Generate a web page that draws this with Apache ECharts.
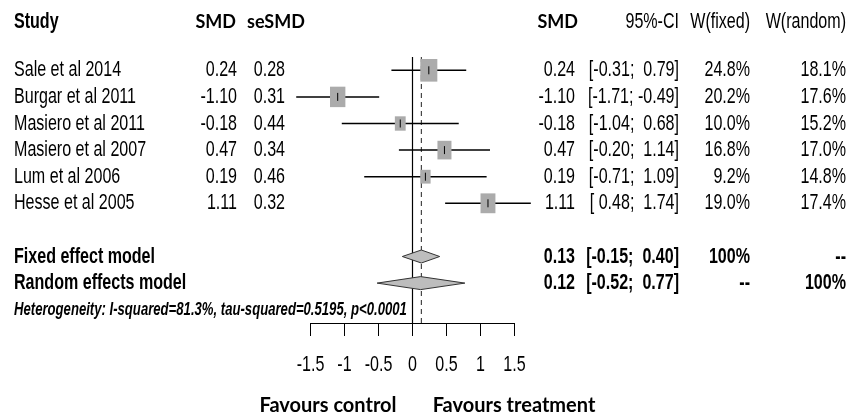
<!DOCTYPE html>
<html>
<head>
<meta charset="utf-8">
<script src="https://cdn.jsdelivr.net/npm/echarts@6/dist/echarts.min.js"></script>
<style>
  html, body { margin: 0; padding: 0; background: #fff; }
  #chart { width: 861px; height: 419px; }
</style>
</head>
<body>
<div id="chart"></div>
<script>
const studies = ['Sale et al 2014', 'Burgar et al 2011', 'Masiero et al 2011', 'Masiero et al 2007', 'Lum et al 2006', 'Hesse et al 2005']
const smd = [0.24, -1.10, -0.18, 0.47, 0.19, 1.11]
const seSmd = [0.28, 0.31, 0.44, 0.34, 0.46, 0.32]
const ciLow = [-0.31, -1.71, -1.04, -0.20, -0.71, 0.48]
const ciHigh = [0.79, -0.49, 0.68, 1.14, 1.09, 1.74]
const wFixed = [24.8, 20.2, 10.0, 16.8, 9.2, 19.0]
const wRandom = [18.1, 17.6, 15.2, 17.0, 14.8, 17.4]

const models = ['Fixed effect model', 'Random effects model']
const modelSmd = [0.13, 0.12]
const modelLow = [-0.15, -0.52]
const modelHigh = [0.40, 0.77]
const modelWFixed = ['100%', '--']
const modelWRandom = ['--', '100%']

const heterogeneity = 'Heterogeneity: I-squared=81.3%, tau-squared=0.5195, p<0.0001'
const xTicks = [-1.5, -1, -0.5, 0, 0.5, 1, 1.5]
const xTickLabels = ['-1.5', '-1', '-0.5', '0', '0.5', '1', '1.5']

// rows on the y scale
const HEADER_ROW = -1.82
const MODEL_ROW0 = 7
const HET_ROW = 9
const AXIS_ROW = 9.5

// Arial Narrow look: Liberation Sans squeezed horizontally
const SANS = '"Liberation Sans", Arial, sans-serif'
const NARROW_X = 0.73
const WIDE = 'Lato, "Open Sans", sans-serif'
const COLS = { study: 14, smd: 237, se: 285, smd2: 575, ci: 679, wf: 750, wr: 846 }

const fmt2 = v => v.toFixed(2)
const pad = v => (v < 0 ? '' : ' ') + v.toFixed(2)
const ciText = (lo, hi) => `[${pad(lo)}; ${pad(hi)}]`

const chart = echarts.init(document.getElementById('chart'), null, { renderer: 'canvas' })

function txt(x, y, text, align, font, sx) {
  return {
    type: 'text', x, y, scaleX: sx || 1,
    style: { x: 0, y: 0, text, align, verticalAlign: 'middle', font, fill: '#000' }
  }
}
const narrow = (x, y, text, align, font, sx) => txt(x, y, text, align, font, sx || NARROW_X)

const studyData = studies.map((s, i) => [smd[i], ciLow[i], ciHigh[i], i, wFixed[i]])
const modelData = models.map((m, i) => [modelSmd[i], modelLow[i], modelHigh[i], MODEL_ROW0 + i])

const option = {
  backgroundColor: '#fff',
  animation: false,
  grid: { left: 310.5, width: 204, top: 57, height: 266 },
  xAxis: {
    type: 'value', min: -1.5, max: 1.5, interval: 0.5,
    axisLine: { show: true, onZero: false, lineStyle: { color: '#000', width: 1 } },
    axisTick: { show: true, length: 13, lineStyle: { color: '#000', width: 1 } },
    axisLabel: { show: false },
    splitLine: { show: false }
  },
  yAxis: {
    type: 'value', inverse: true, min: -0.5, max: 9.5,
    axisLine: { show: false }, axisTick: { show: false }, axisLabel: { show: false },
    splitLine: { show: false }
  },
  series: [
    {
      // reference lines: no effect and fixed effect estimate
      type: 'custom',
      data: [[0, 0], [modelSmd[0], 1]],
      renderItem: (params, api) => {
        const x = api.value(0)
        const top = api.coord([x, -0.5])
        const bot = api.coord([x, AXIS_ROW])
        const dashed = api.value(1) === 1
        return {
          type: 'line',
          shape: { x1: top[0], y1: top[1], x2: bot[0], y2: bot[1] },
          style: dashed ? { stroke: '#222', lineWidth: 1, lineDash: [5, 4] } : { stroke: '#000', lineWidth: 1.2 }
        }
      }
    },
    {
      type: 'custom',
      data: studyData,
      renderItem: (params, api) => {
        const c = api.coord([api.value(0), api.value(3)])
        const lo = api.coord([api.value(1), api.value(3)])
        const hi = api.coord([api.value(2), api.value(3)])
        const w = 3.42 * Math.sqrt(api.value(4))
        const h = w * 1.33
        return {
          type: 'group',
          children: [
            { type: 'line', shape: { x1: lo[0], y1: c[1], x2: hi[0], y2: c[1] }, style: { stroke: '#000', lineWidth: 1.5 } },
            { type: 'rect', shape: { x: c[0] - w / 2, y: c[1] - h / 2, width: w, height: h }, style: { fill: '#ababab' } },
            { type: 'line', shape: { x1: c[0], y1: c[1] - 4, x2: c[0], y2: c[1] + 4 }, style: { stroke: '#000', lineWidth: 1 } }
          ]
        }
      }
    },
    {
      type: 'custom',
      data: modelData,
      renderItem: (params, api) => {
        const row = api.value(3)
        const c = api.coord([api.value(0), row])
        const lo = api.coord([api.value(1), row])
        const hi = api.coord([api.value(2), row])
        const hh = 6.5
        return {
          type: 'polygon',
          shape: { points: [[lo[0], c[1]], [c[0], c[1] - hh], [hi[0], c[1]], [c[0], c[1] + hh]] },
          style: { fill: '#bdbdbd', stroke: '#333', lineWidth: 1 }
        }
      }
    },
    {
      // x tick labels
      type: 'custom',
      data: xTicks.map((t, i) => [t, i]),
      renderItem: (params, api) => {
        const p = api.coord([api.value(0), AXIS_ROW])
        return narrow(p[0], p[1] + 42, xTickLabels[api.value(1)], 'center', `22px ${SANS}`)
      }
    },
    {
      // table text
      type: 'custom',
      data: [[0]],
      renderItem: (params, api) => {
        const y = r => api.coord([0, r])[1]
        const reg = `22px ${SANS}`
        const bold = `bold 22px ${SANS}`
        const kids = []
        const hy = y(HEADER_ROW)
        kids.push(narrow(COLS.study, hy, 'Study', 'left', bold))
        kids.push(txt(COLS.smd - 1, hy, 'SMD', 'right', `bold 18px ${WIDE}`))
        kids.push(txt(247, hy, 'seSMD', 'left', `bold 18px ${WIDE}`))
        kids.push(txt(COLS.smd2 + 3, hy, 'SMD', 'right', `bold 18px ${WIDE}`))
        kids.push(narrow(COLS.ci, hy, '95%-CI', 'right', reg))
        kids.push(narrow(COLS.wf, hy, 'W(fixed)', 'right', reg))
        kids.push(narrow(COLS.wr, hy, 'W(random)', 'right', reg))
        studies.forEach((s, i) => {
          const yy = y(i)
          kids.push(narrow(COLS.study, yy, s, 'left', reg))
          kids.push(narrow(COLS.smd, yy, fmt2(smd[i]), 'right', reg))
          kids.push(narrow(COLS.se, yy, fmt2(seSmd[i]), 'right', reg))
          kids.push(narrow(COLS.smd2, yy, fmt2(smd[i]), 'right', reg))
          kids.push(narrow(COLS.ci, yy, ciText(ciLow[i], ciHigh[i]), 'right', reg))
          kids.push(narrow(COLS.wf, yy, wFixed[i].toFixed(1) + '%', 'right', reg))
          kids.push(narrow(COLS.wr, yy, wRandom[i].toFixed(1) + '%', 'right', reg))
        })
        models.forEach((m, i) => {
          const yy = y(MODEL_ROW0 + i)
          kids.push(narrow(COLS.study, yy, m, 'left', bold))
          kids.push(narrow(COLS.smd2, yy, fmt2(modelSmd[i]), 'right', bold))
          kids.push(narrow(COLS.ci, yy, ciText(modelLow[i], modelHigh[i]), 'right', bold))
          kids.push(narrow(COLS.wf, yy, modelWFixed[i], 'right', bold))
          kids.push(narrow(COLS.wr, yy, modelWRandom[i], 'right', bold))
        })
        kids.push(narrow(COLS.study, y(HET_ROW), heterogeneity, 'left', `italic bold 17.5px ${SANS}`, 0.75))
        kids.push(txt(328, 406, 'Favours control', 'center', `bold 20px ${WIDE}`))
        kids.push(txt(514, 406, 'Favours treatment', 'center', `bold 20px ${WIDE}`))
        return { type: 'group', children: kids }
      }
    }
  ]
}
chart.setOption(option)
</script>
</body>
</html>
